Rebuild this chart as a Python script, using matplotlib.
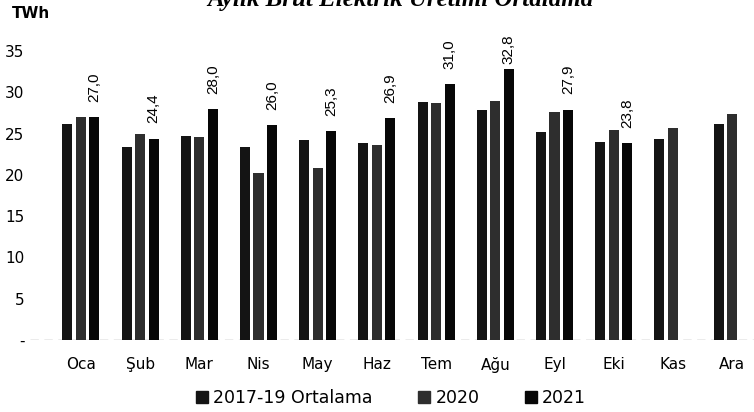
import numpy as np
import matplotlib
matplotlib.use("Agg")
from matplotlib import pyplot as plt
from matplotlib.patches import Patch

# Data (TWh)
months = ["Oca", "Şub", "Mar", "Nis", "May", "Haz", "Tem", "Ağu", "Eyl", "Eki", "Kas", "Ara"]
avg_2017_19 = [26.1, 23.4, 24.7, 23.4, 24.2, 23.9, 28.8, 27.9, 25.2, 24.0, 24.3, 26.1]
y2020 = [27.0, 24.9, 24.6, 20.2, 20.8, 23.6, 28.7, 29.0, 27.6, 25.4, 25.7, 27.4]
y2021 = [27.0, 24.4, 28.0, 26.0, 25.3, 26.9, 31.0, 32.8, 27.9, 23.8]
yticks = [0, 5, 10, 15, 20, 25, 30, 35]
ytick_labels = ["-", "5", "10", "15", "20", "25", "30", "35"]

fig = plt.figure(figsize=(7.54, 4.12), dpi=100)
ax = fig.add_axes([30 / 754, 72 / 412, 724 / 754, 289 / 412])

x = np.arange(len(months))
w = 0.17
step = 0.228

ax.bar(x - step, avg_2017_19, w, color="#141414", label="2017-19 Ortalama")
ax.bar(x, y2020, w, color="#2e2e2e", label="2020")
x21 = x[:len(y2021)] + step
ax.bar(x21, y2021, w, color="#070707", label="2021")

# rotated value labels on the 2021 bars
top = max(y2021)
for xi, v in zip(x21, y2021):
    off = 4 if v == top else 11
    ax.annotate(f"{v:.1f}".replace(".", ","), (xi, v), xytext=(0, off),
                textcoords="offset points", rotation=90, ha="center", va="bottom",
                fontsize=11, family="Liberation Sans", annotation_clip=False)

ax.set_xlim(-0.86, 11.37)
ax.set_ylim(0, 35)
ax.set_yticks(yticks)
ax.set_yticklabels(ytick_labels)
ax.set_xticks(x)
ax.set_xticklabels(months)
ax.tick_params(axis="both", length=0, labelsize=11)
ax.tick_params(axis="y", pad=4)
ax.tick_params(axis="x", pad=12)
for s in ax.spines.values():
    s.set_visible(False)
ax.axhline(0, color="#9a9a9a", lw=1, ls=(0, (6, 4)), zorder=0)

fig.text(12 / 754, 1 - 13 / 412, "TWh", fontsize=11, fontweight="bold", va="center")
fig.text(400 / 754, 1 - 6 / 412, "Aylık Brüt Elektrik Üretimi Ortalama",
         family="Liberation Serif", fontsize=18, fontweight="bold", style="italic",
         ha="center", va="baseline")

handles = [Patch(color="#141414"), Patch(color="#2e2e2e"), Patch(color="#070707")]
fig.legend(handles, ["2017-19 Ortalama", "2020", "2021"], loc="center",
           bbox_to_anchor=(391 / 754, 14 / 412), ncol=3, frameon=False,
           fontsize=12.5, handlelength=0.7, handleheight=0.7, handletextpad=0.3,
           columnspacing=2.6)

fig.savefig("out.png", dpi=100)
